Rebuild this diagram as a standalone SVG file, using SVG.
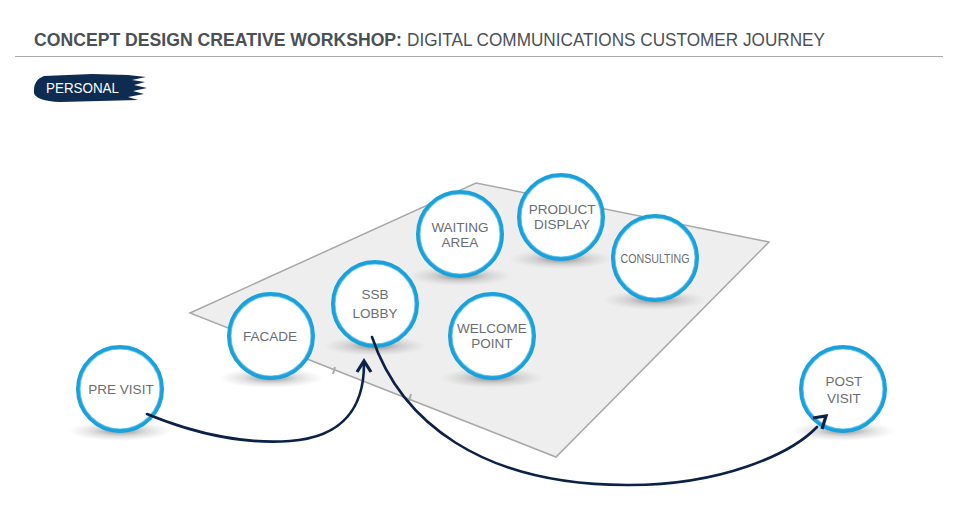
<svg xmlns="http://www.w3.org/2000/svg" width="960" height="509" viewBox="0 0 960 509">
<defs>
<radialGradient id="shadow" cx="0.5" cy="0.5" r="0.5">
<stop offset="0" stop-color="#555" stop-opacity="0.7"/>
<stop offset="0.5" stop-color="#888" stop-opacity="0.3"/>
<stop offset="1" stop-color="#aaa" stop-opacity="0"/>
</radialGradient>
</defs>
<style>
.title{font-family:"Liberation Sans",Arial,sans-serif;font-size:18px;fill:#4b5057}
.lbl{font-family:"Liberation Sans",Arial,sans-serif;font-size:13.5px;fill:#6a6d72;text-anchor:middle}
.ring{fill:#fff;stroke:#1aa0da;stroke-width:4}
.ring2{fill:none;stroke:#4dbbe8;stroke-width:1.2;stroke-opacity:0.7}
.sh{fill:url(#shadow)}
.conn{fill:none;stroke:#0b2148;stroke-width:2.6;stroke-linecap:round}
.chev{fill:none;stroke:#0b2148;stroke-width:3.2;stroke-linecap:butt;stroke-linejoin:miter}
</style>
<rect width="960" height="509" fill="#fff"/>
<text class="title" x="34" y="46" font-weight="bold" textLength="368" lengthAdjust="spacingAndGlyphs">CONCEPT DESIGN CREATIVE WORKSHOP:</text>
<text class="title" x="407" y="46" textLength="418" lengthAdjust="spacingAndGlyphs">DIGITAL COMMUNICATIONS CUSTOMER JOURNEY</text>
<line x1="15" y1="56.5" x2="943" y2="56.5" stroke="#a9a9ab" stroke-width="1.2"/>
<g id="personal">
<path d="M44,76 L92,74 L128,75 L146,77 L132,80 L145,82 L134,85 L147,88 L133,91 L144,94 L128,97 L138,100 L100,101 L60,102 Q36,101 34,93 Q33,80 44,76 Z" fill="#0e2b52"/>
<text x="46" y="93" font-family="Liberation Sans, Arial, sans-serif" font-size="14" fill="#fff" textLength="73" lengthAdjust="spacingAndGlyphs">PERSONAL</text>
</g>
<g id="plane">
<polygon points="190,313 476,183 769,242 556,457" fill="#eeeeee" stroke="#a8a8a8" stroke-width="1.5"/>
<line x1="335" y1="367" x2="333" y2="374" stroke="#aaa" stroke-width="2"/>
<line x1="411" y1="394" x2="409" y2="401" stroke="#aaa" stroke-width="2"/>
</g>
<g id="node-facade"><ellipse class="sh" cx="271" cy="378" rx="52" ry="10"/><circle class="ring" cx="271" cy="336" r="42"/><circle class="ring2" cx="271" cy="336" r="40"/><text class="lbl" x="270" y="341">FACADE</text></g>
<g id="node-ssb-lobby"><ellipse class="sh" cx="375" cy="346" rx="52" ry="10"/><circle class="ring" cx="375" cy="304" r="42"/><circle class="ring2" cx="375" cy="304" r="40"/><text class="lbl" x="375" y="299">SSB</text><text class="lbl" x="375" y="318">LOBBY</text></g>
<g id="node-waiting-area"><ellipse class="sh" cx="460" cy="276" rx="52" ry="10"/><circle class="ring" cx="460" cy="234" r="42"/><circle class="ring2" cx="460" cy="234" r="40"/><text class="lbl" x="460" y="232">WAITING</text><text class="lbl" x="460" y="247">AREA</text></g>
<g id="node-product-display"><ellipse class="sh" cx="561" cy="259" rx="52" ry="10"/><circle class="ring" cx="561" cy="217" r="42"/><circle class="ring2" cx="561" cy="217" r="40"/><text class="lbl" x="562" y="214">PRODUCT</text><text class="lbl" x="562" y="229">DISPLAY</text></g>
<g id="node-consulting"><ellipse class="sh" cx="655" cy="300" rx="52" ry="10"/><circle class="ring" cx="655" cy="258" r="42"/><circle class="ring2" cx="655" cy="258" r="40"/><text class="lbl" x="655" y="263" font-size="12" textLength="69" lengthAdjust="spacingAndGlyphs">CONSULTING</text></g>
<g id="node-welcome-point"><ellipse class="sh" cx="492" cy="378" rx="52" ry="10"/><circle class="ring" cx="492" cy="336" r="42"/><circle class="ring2" cx="492" cy="336" r="40"/><text class="lbl" x="492" y="333">WELCOME</text><text class="lbl" x="492" y="348">POINT</text></g>
<g id="node-pre-visit"><ellipse class="sh" cx="120" cy="431" rx="52" ry="10"/><circle class="ring" cx="120" cy="389" r="42"/><circle class="ring2" cx="120" cy="389" r="40"/><text class="lbl" x="121" y="394">PRE VISIT</text></g>
<g id="node-post-visit"><ellipse class="sh" cx="843" cy="431" rx="52" ry="10"/><circle class="ring" cx="843" cy="389" r="42"/><circle class="ring2" cx="843" cy="389" r="40"/><text class="lbl" x="844" y="386">POST</text><text class="lbl" x="844" y="403">VISIT</text></g>
<g id="connectors">
<path class="conn" d="M147,414 C 200,436 250,444 290,441 C 345,437 364,405 364,364"/>
<path class="chev" d="M357,372 L364,361 L371,372"/>
<path class="conn" d="M372,337 C 400,420 480,486 630,485 C 720,485 790,455 817,427"/>
<path class="chev" d="M813,418 L826,416 L822,429"/>
</g>
</svg>
